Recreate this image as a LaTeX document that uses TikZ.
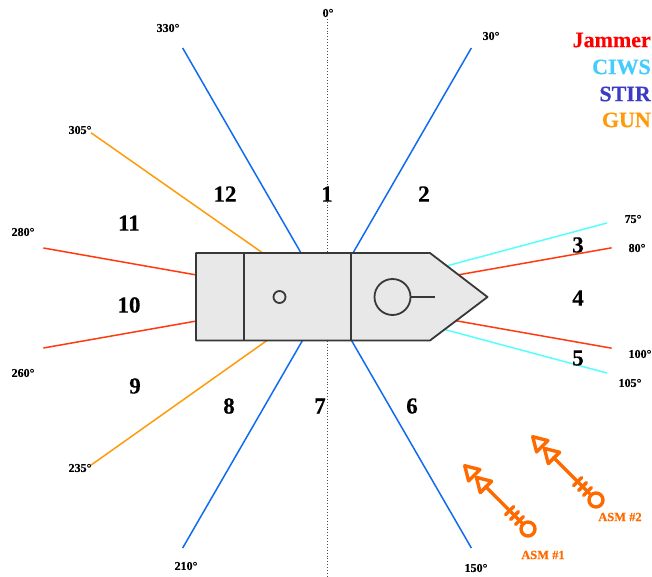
\documentclass[tikz,border=0pt]{standalone}
\usepackage{fontspec}
\setmainfont{Liberation Serif}[BoldFeatures={FakeBold=0.3}]
\definecolor{stirblue}{HTML}{3B3BC4}
\definecolor{ciwsblue}{HTML}{44CCFF}
\definecolor{gunorange}{HTML}{FF9A0A}
\definecolor{asmorange}{HTML}{FF6A00}
\definecolor{shipgray}{HTML}{E8E8E8}
\definecolor{shipline}{HTML}{383838}
\tikzset{
  asm/.pic = {
    \draw[missile] (7,0) -- (60,0);
    \draw[missile] (0,0) circle (7);
    \draw[missile] (12,-5.6) -- (12,5.6);
    \draw[missile] (19,-5.6) -- (19,5.6);
    \draw[missile] (26,-5.6) -- (26,5.6);
    \draw[missile] (89.5,0) -- (76,8) -- (76,-8) -- cycle;
    \draw[missile] (73,0) -- (59.5,8) -- (59.5,-8) -- cycle;
  }
}
\begin{document}
\begin{tikzpicture}[x=1pt, y=-1pt,
    sector/.style = {line width=1.5pt},
    stirline/.style = {sector, color={rgb,255:red,15;green,107;blue,239}},
    gunline/.style = {sector, gunorange},
    jamline/.style = {sector, color={rgb,255:red,255;green,58;blue,16}},
    ciwsline/.style = {sector, color={rgb,255:red,85;green,255;blue,255}},
    ship/.style = {line width=1.8pt, shipline, line join=round},
    missile/.style = {line width=3.4pt, asmorange, line join=round, line cap=round},
    deg/.style = {font=\fontsize{12}{12}\selectfont\bfseries, inner sep=0pt},
    zone/.style = {font=\fontsize{23}{23}\selectfont\bfseries, inner sep=0pt},
    legend/.style = {font=\fontsize{22}{22}\selectfont\bfseries, inner sep=0pt, anchor=east},
    asmname/.style = {font=\fontsize{12.5}{12.5}\selectfont\bfseries, inner sep=0pt, asmorange}]

    \useasboundingbox (0,0) rectangle (652,577);
    \coordinate (c) at (327,298);

    % dotted axis
    \coordinate (top) at (327,19);
    \coordinate (bot) at (327,577);
    \draw[dotted, line width=0.9pt, black!70] (top) -- (bot);

    % sector lines
    \draw[stirline] (c) -- ++(-60:288.7) coordinate (s30);
    \draw[stirline] (c) -- ++(60:288.7) coordinate (s150);
    \draw[stirline] (c) -- ++(120:288.7) coordinate (s210);
    \draw[stirline] (c) -- ++(-120:288.7) coordinate (s330);
    \draw[gunline] (c) -- ++(144.7:290) coordinate (g235);
    \draw[gunline] (c) -- ++(-145:288) coordinate (g305);
    \draw[jamline] (c) -- ++(-10:289) coordinate (j80);
    \draw[jamline] (c) -- ++(10:289) coordinate (j100);
    \draw[jamline] (c) -- ++(170:288) coordinate (j260);
    \draw[jamline] (c) -- ++(-170:288) coordinate (j280);
    \draw[ciwsline] (c) -- ++(-15:290) coordinate (w75);
    \draw[ciwsline] (c) -- ++(15:290) coordinate (w105);

    % ship
    \draw[ship, fill=shipgray] (196,253) -- (430,253) -- (487.5,297) -- (430,340.5) -- (196,340.5) -- cycle;
    \draw[ship, line width=2.2pt] (244,253) -- (244,340.5);
    \draw[ship, line width=2.2pt] (351,253) -- (351,340.5);
    \draw[ship] (279.5,297) circle (6);
    \draw[ship] (392.5,297) circle (18) coordinate (mast);
    \draw[ship] (410.5,297) -- (435,297);

    % bearings
    \node[deg] (d0) at (328,13) {0°};
    \node[deg] (d30) at (491,36) {30°};
    \node[deg] (d75) at (633,219) {75°};
    \node[deg] (d80) at (637,248) {80°};
    \node[deg] (d100) at (640,354) {100°};
    \node[deg] (d105) at (630,383) {105°};
    \node[deg] (d150) at (476,568) {150°};
    \node[deg] (d210) at (186,566) {210°};
    \node[deg] (d235) at (80,468) {235°};
    \node[deg] (d260) at (23,373) {260°};
    \node[deg] (d280) at (23,232) {280°};
    \node[deg] (d305) at (80,130) {305°};
    \node[deg] (d330) at (168,28) {330°};

    % zones
    \node[zone] (z1) at (327,194) {1};
    \node[zone] (z2) at (424,194) {2};
    \node[zone] (z3) at (578,245) {3};
    \node[zone] (z4) at (578,298) {4};
    \node[zone] (z5) at (578,358) {5};
    \node[zone] (z6) at (412,406) {6};
    \node[zone] (z7) at (320,406) {7};
    \node[zone] (z8) at (229,406) {8};
    \node[zone] (z9) at (135,386) {9};
    \node[zone] (z10) at (129,305) {10};
    \node[zone] (z11) at (129,223) {11};
    \node[zone] (z12) at (225,194) {12};

    % legend
    \node[legend, red] (jam) at (651,40) {Jammer};
    \node[legend, ciwsblue] (ciws) at (651,67) {CIWS};
    \node[legend, stirblue] (stir) at (651,94) {STIR};
    \node[legend, gunorange] (gun) at (651,120) {GUN};

    % missiles
    \pic[rotate=135] at (528,529) {asm};
    \pic[rotate=135] at (596,500) {asm};
    \node[asmname] (asm1) at (543,555) {ASM \#1};
    \node[asmname] (asm2) at (620,517) {ASM \#2};

\end{tikzpicture}
\end{document}
